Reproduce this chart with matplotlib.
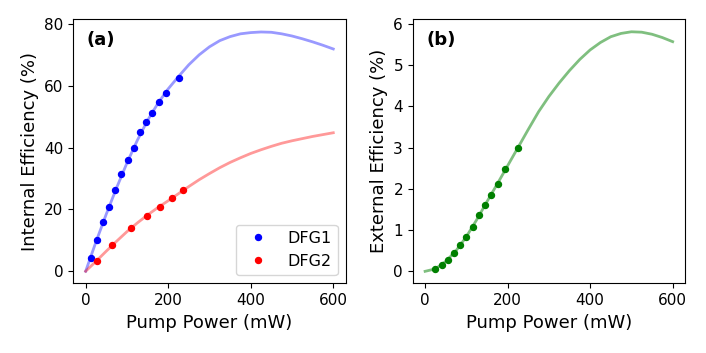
import numpy as np
import matplotlib
matplotlib.use('Agg')
import matplotlib.pyplot as plt

# ---- measured points ---- #
dfg1_power = [12, 27, 42, 57, 71, 86, 102, 116, 132, 147, 161, 177, 195, 225]
dfg1_eff = [4.3, 10.1, 15.9, 20.8, 26.2, 31.5, 36.1, 39.9, 45.1, 48.3, 51.2, 54.6, 57.8, 62.4]

dfg2_power = [28, 65, 110, 148, 180, 209, 236]
dfg2_eff = [3.2, 8.5, 14.0, 18.0, 20.8, 23.6, 26.3]

ext_power = [25, 40, 55, 70, 85, 100, 115, 130, 146, 160, 176, 194, 224]
ext_eff = [0.065, 0.15, 0.28, 0.44, 0.63, 0.84, 1.07, 1.37, 1.62, 1.85, 2.12, 2.47, 3.0]

# ---- fitted curves ---- #
fit_power = [0, 25, 50, 75, 100, 125, 150, 175, 200, 225, 250, 275, 300,
             325, 350, 375, 400, 425, 450, 475, 500, 525, 550, 575, 600]
fit_dfg1 = [0, 9.5, 18.5, 27.0, 35.0, 42.3, 48.8, 54.3, 59.0, 63.0, 66.8, 70.0, 72.6,
            74.6, 75.9, 76.8, 77.2, 77.4, 77.3, 76.8, 76.1, 75.2, 74.2, 73.1, 71.9]
fit_dfg2 = [0, 3.2, 6.5, 9.7, 12.8, 15.6, 18.2, 20.6, 22.8, 25.1, 27.4, 29.6, 31.6,
            33.5, 35.2, 36.7, 38.1, 39.3, 40.4, 41.4, 42.2, 42.9, 43.6, 44.2, 44.8]
fit_ext = [0, 0.06, 0.24, 0.5, 0.84, 1.25, 1.69, 2.12, 2.56, 3.0, 3.44, 3.87, 4.24,
           4.57, 4.87, 5.14, 5.37, 5.55, 5.69, 5.77, 5.81, 5.80, 5.75, 5.67, 5.57]

fig = plt.figure(figsize=(7.06, 3.53), dpi=100)
ax1 = fig.add_axes([0.1038, 0.1975, 0.3858, 0.7487])
ax2 = fig.add_axes([0.5846, 0.1975, 0.3857, 0.7487])

# (a) internal efficiency
ax1.plot(fit_power, fit_dfg1, color='blue', alpha=0.4, lw=2)
ax1.plot(fit_power, fit_dfg2, color='red', alpha=0.4, lw=2)
ax1.plot(dfg1_power, dfg1_eff, 'o', color='blue', ms=4.3, label='DFG1')
ax1.plot(dfg2_power, dfg2_eff, 'o', color='red', ms=4.3, label='DFG2')
ax1.set_xlabel('Pump Power (mW)', fontsize=13)
ax1.set_ylabel('Internal Efficiency (%)', fontsize=13)
ax1.set_xticks([0, 200, 400, 600])
ax1.set_yticks([0, 20, 40, 60, 80])
ax1.tick_params(labelsize=11)
ax1.set_xlim(-30, 630)
ax1.set_ylim(-3.9, 81.6)
ax1.text(0.05, 0.92, '(a)', transform=ax1.transAxes, fontsize=13,
         fontweight='bold', va='center', ha='left')
ax1.legend(loc='lower right', fontsize=11.5)

# (b) external efficiency
ax2.plot(fit_power, fit_ext, color='green', alpha=0.5, lw=2)
ax2.plot(ext_power, ext_eff, 'o', color='green', ms=4.3)
ax2.set_xlabel('Pump Power (mW)', fontsize=13)
ax2.set_ylabel('External Efficiency (%)', fontsize=13)
ax2.set_xticks([0, 200, 400, 600])
ax2.set_yticks([0, 1, 2, 3, 4, 5, 6])
ax2.tick_params(labelsize=11)
ax2.set_xlim(-30, 630)
ax2.set_ylim(-0.29, 6.12)
ax2.text(0.05, 0.92, '(b)', transform=ax2.transAxes, fontsize=13,
         fontweight='bold', va='center', ha='left')

fig.savefig('out.png', dpi=100)
